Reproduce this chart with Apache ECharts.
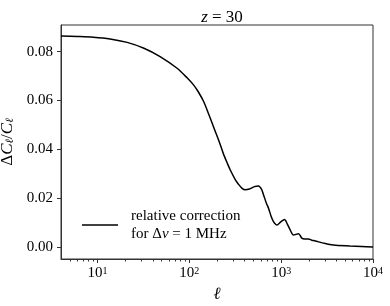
<!DOCTYPE html>
<html><head><meta charset="utf-8">
<script src="https://cdn.jsdelivr.net/npm/echarts@6/dist/echarts.min.js"></script>
<style>html,body{margin:0;padding:0;background:#fff}#c{width:390px;height:306px}</style>
</head><body><div id="c"></div>
<script>
const ell = [4, 6, 9, 13.7, 21, 32, 48, 73.5, 95, 111, 125, 143, 163, 183, 210, 234, 260, 279, 316, 344, 375, 406, 450, 510, 566, 610, 643, 690, 728, 780, 824, 897, 990, 1087, 1170, 1253, 1362, 1460, 1542, 1610, 1678, 1800, 1983, 2150, 2344, 2884, 3700, 5600, 7500, 10000];
const dCl = [0.0864, 0.0862, 0.0859, 0.0852, 0.0838, 0.0814, 0.0780, 0.0732, 0.0692, 0.0664, 0.0636, 0.0596, 0.0543, 0.0493, 0.0435, 0.0384, 0.0342, 0.0316, 0.0277, 0.0257, 0.0241, 0.0235, 0.0238, 0.0248, 0.0251, 0.0238, 0.0214, 0.0180, 0.0160, 0.0125, 0.0105, 0.0091, 0.0104, 0.0114, 0.0094, 0.0071, 0.0050, 0.0053, 0.0055, 0.0048, 0.0037, 0.0034, 0.0034, 0.0029, 0.0026, 0.0017, 0.0009, 0.0005, 0.0003, 0.0001];
const xMajorTicks = [10, 100, 1000, 10000];
const xMinorTicks = [5, 6, 7, 8, 9, 20, 30, 40, 50, 60, 70, 80, 90, 200, 300, 400, 500, 600, 700, 800, 900, 2000, 3000, 4000, 5000, 6000, 7000, 8000, 9000];
const yTicks = [0, 0.02, 0.04, 0.06, 0.08];
const seriesName = 'relative correction\nfor Δν = 1 MHz';

const FONT = 'Liberation Serif';
const AX = '#333';
const chart = echarts.init(document.getElementById('c'), null, {renderer: 'canvas'});
const xBase = {
  type: 'log', logBase: 10, min: 4, max: 10000, position: 'bottom',
  splitLine: {show: false}
};
chart.setOption({
  animation: false,
  title: {
    text: '{i|z} = 30', left: 217, top: 4, textAlign: 'center',
    textStyle: {fontFamily: FONT, fontSize: 17, fontWeight: 'normal', color: '#000',
      rich: {i: {fontFamily: FONT, fontSize: 17, fontStyle: 'italic', color: '#000'}}}
  },
  grid: {left: 61, right: 17, top: 25, bottom: 47, show: true, borderColor: AX, borderWidth: 1,
    containLabel: false, outerBoundsMode: 'none'},
  legend: {
    left: 77, top: 202, itemWidth: 36, itemHeight: 1.5, icon: 'rect',
    data: [{name: seriesName}],
    formatter: () => 'relative correction\nfor Δ{i|ν} = 1 MHz',
    itemStyle: {color: '#000'},
    textStyle: {fontFamily: FONT, fontSize: 15, color: '#000', lineHeight: 18, padding: [0, 0, 0, 8],
      rich: {i: {fontFamily: FONT, fontSize: 15, fontStyle: 'italic', lineHeight: 18, color: '#000'}}}
  },
  xAxis: [
    Object.assign({}, xBase, {
      name: 'ℓ', nameLocation: 'middle', nameGap: 24,
      nameTextStyle: {fontFamily: FONT, fontSize: 17, fontStyle: 'italic', color: '#000'},
      axisLine: {onZero: false, lineStyle: {color: AX, width: 1}},
      axisTick: {show: true, length: 4, customValues: xMajorTicks, lineStyle: {color: AX}},
      axisLabel: {customValues: xMajorTicks, margin: 7, fontFamily: FONT, fontSize: 15, color: '#000',
        formatter: v => '10{sup|' + Math.round(Math.log10(v)) + '}',
        rich: {sup: {fontFamily: FONT, fontSize: 10, verticalAlign: 'top', color: '#000'}}}
    }),
    Object.assign({}, xBase, {
      axisLine: {show: false, onZero: false},
      axisTick: {show: true, length: 2.5, customValues: xMinorTicks, lineStyle: {color: AX}},
      axisLabel: {show: false}
    })
  ],
  yAxis: {
    type: 'value', min: -0.0048, max: 0.0909,
    name: '{d|Δ}{i|C}{s|ℓ}{d|/}{i|C}{s|ℓ}', nameLocation: 'middle', nameGap: 31, nameRotate: 90,
    nameTextStyle: {fontFamily: FONT, fontSize: 17, color: '#000',
      rich: {
        d: {fontFamily: FONT, fontSize: 17, color: '#000'},
        i: {fontFamily: FONT, fontSize: 17, fontStyle: 'italic', color: '#000'},
        s: {fontFamily: FONT, fontSize: 11, fontStyle: 'italic', color: '#000', verticalAlign: 'bottom'}
      }},
    splitLine: {show: false},
    axisLine: {show: true, onZero: false, lineStyle: {color: AX, width: 1}},
    axisTick: {show: true, length: 4, customValues: yTicks, lineStyle: {color: AX}},
    axisLabel: {customValues: yTicks, margin: 8, fontFamily: FONT, fontSize: 15, color: '#000',
      formatter: v => v.toFixed(2)}
  },
  series: [{
    name: seriesName, type: 'line', xAxisIndex: 0,
    data: ell.map((l, i) => [l, dCl[i]]),
    showSymbol: false, symbol: 'none', smooth: 0.3,
    lineStyle: {color: '#000', width: 1.5}, itemStyle: {color: '#000'}
  }]
});
</script></body></html>
